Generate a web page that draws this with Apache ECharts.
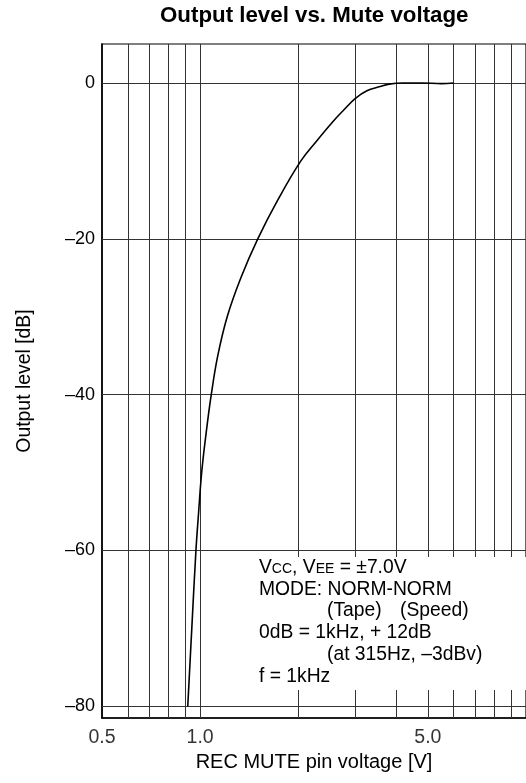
<!DOCTYPE html>
<html>
<head>
<meta charset="utf-8">
<script src="https://cdn.jsdelivr.net/npm/echarts@6/dist/echarts.min.js"></script>
<style>
html,body{margin:0;padding:0;background:#fff;}
#chart{width:526px;height:783px;}
</style>
</head>
<body>
<div id="chart"></div>
<script>
// ---- data ----
const VOLTAGE  = [0.9165, 0.943, 0.971, 0.990, 1.011, 1.043, 1.082, 1.133, 1.211, 1.334, 1.503, 1.732, 2.038, 2.272, 2.55, 2.754, 2.99, 3.25, 3.54, 3.8, 4.2, 4.8, 5.5, 6.0];
const LEVEL_DB = [-80, -70, -60, -55, -50, -45, -40, -35, -30, -25, -20, -15, -10, -7.5, -5, -3.5, -2, -1, -0.5, -0.15, 0, 0, -0.08, 0];
const X_GRID_VALUES = [0.6, 0.7, 0.8, 0.9, 1, 2, 3, 4, 5, 6, 7, 8, 9];
const X_TICK_LABELS = [0.5, 1.0, 5.0];
const Y_TICKS = [0, -20, -40, -60, -80];
const X_RANGE = [0.5, 10];
const Y_RANGE = [-81.5, 5];
const TITLE = 'Output level vs. Mute voltage';
const X_NAME = 'REC MUTE pin voltage [V]';
const Y_NAME = 'Output level [dB]';
const NOTE_LINES = [
  ['{n|V}{s|CC}{n|, V}{s|EE}{n| = ±7.0V}'],
  ['{n|MODE: NORM-NORM}'],
  ['{n|(Tape)}', '{n|(Speed)}'],
  ['{n|0dB = 1kHz, + 12dB}'],
  ['{n|(at 315Hz, \u20133dBv)}'],
  ['{n|f = 1kHz}']
];

// ---- chart ----
const FONT = 'Liberation Sans, Arial, Helvetica, sans-serif';
const chart = echarts.init(document.getElementById('chart'), null, {renderer: 'canvas'});

const lineData = VOLTAGE.map((v, i) => [v, LEVEL_DB[i]]);
const gridStyle = {type: 'solid', color: '#333', width: 1};

// note layout
const noteLeft = 259, noteTop = 566, noteLineH = 21.8;
const noteIndent = [[0], [0], [68, 141], [0], [68], [0]];
const noteRich = {
  n: {fontSize: 19.3, fontFamily: FONT, fill: '#000', verticalAlign: 'bottom', lineHeight: 22},
  s: {fontSize: 14, fontFamily: FONT, fill: '#000', verticalAlign: 'bottom', lineHeight: 22, padding: [0, 0, 1, 0]}
};
const noteTexts = [];
NOTE_LINES.forEach((segs, li) => {
  segs.forEach((seg, si) => {
    noteTexts.push({
      type: 'text',
      x: noteLeft + noteIndent[li][si],
      y: noteTop + li * noteLineH,
      z: 101,
      style: {text: seg, rich: noteRich, fill: '#000', font: '19px ' + FONT, verticalAlign: 'middle', align: 'left'}
    });
  });
});

const option = {
  animation: false,
  backgroundColor: '#fff',
  title: {
    text: TITLE,
    left: 155,
    top: 0,
    textStyle: {fontSize: 22.3, fontWeight: 'bold', color: '#000', fontFamily: FONT}
  },
  grid: {
    left: 102, top: 44, bottom: 65, right: -4,
    show: true, borderColor: '#000', borderWidth: 1.2, backgroundColor: 'transparent'
  },
  xAxis: {
    type: 'log', logBase: 10, min: X_RANGE[0], max: X_RANGE[1],
    name: X_NAME, nameLocation: 'middle', nameGap: 34,
    nameTextStyle: {fontSize: 20, color: '#000', fontFamily: FONT},
    axisLine: {show: true, onZero: false, lineStyle: {color: '#000', width: 1.6}},
    axisTick: {show: false},
    axisLabel: {show: false},
    splitLine: {show: false}
  },
  yAxis: {
    type: 'value', min: Y_RANGE[0], max: Y_RANGE[1],
    name: Y_NAME, nameLocation: 'middle', nameGap: 68, nameRotate: 90,
    nameTextStyle: {fontSize: 19.4, color: '#000', fontFamily: FONT},
    axisLine: {show: true, onZero: false, lineStyle: {color: '#000', width: 1.6}},
    axisTick: {show: false},
    axisLabel: {
      customValues: Y_TICKS, margin: 7, fontSize: 18, color: '#000', fontFamily: FONT,
      formatter: v => (v < 0 ? '\u2013' + Math.abs(v) : String(v))
    },
    splitLine: {show: false}
  },
  series: [
    {
      type: 'line',
      data: lineData,
      smooth: 0.4,
      symbol: 'none',
      lineStyle: {color: '#000', width: 1.6},
      z: 5,
      markLine: {
        silent: true,
        symbol: ['none', 'none'],
        label: {show: false},
        lineStyle: gridStyle,
        data: X_GRID_VALUES.map(v => ({xAxis: v})).concat(Y_TICKS.map(v => ({yAxis: v})))
      }
    },
    {
      type: 'scatter',
      data: X_TICK_LABELS.map(v => [v, Y_RANGE[0]]),
      symbolSize: 0,
      clip: false,
      silent: true,
      label: {
        show: true, position: 'bottom', distance: 10,
        fontSize: 19.5, color: '#000', fontFamily: FONT,
        formatter: p => p.value[0].toFixed(1)
      }
    }
  ],
  graphic: [
    {type: 'rect', shape: {x: 250, y: 557, width: 290, height: 133}, style: {fill: '#fff'}, z: 100}
  ].concat(noteTexts)
};
chart.setOption(option);
</script>
</body>
</html>
